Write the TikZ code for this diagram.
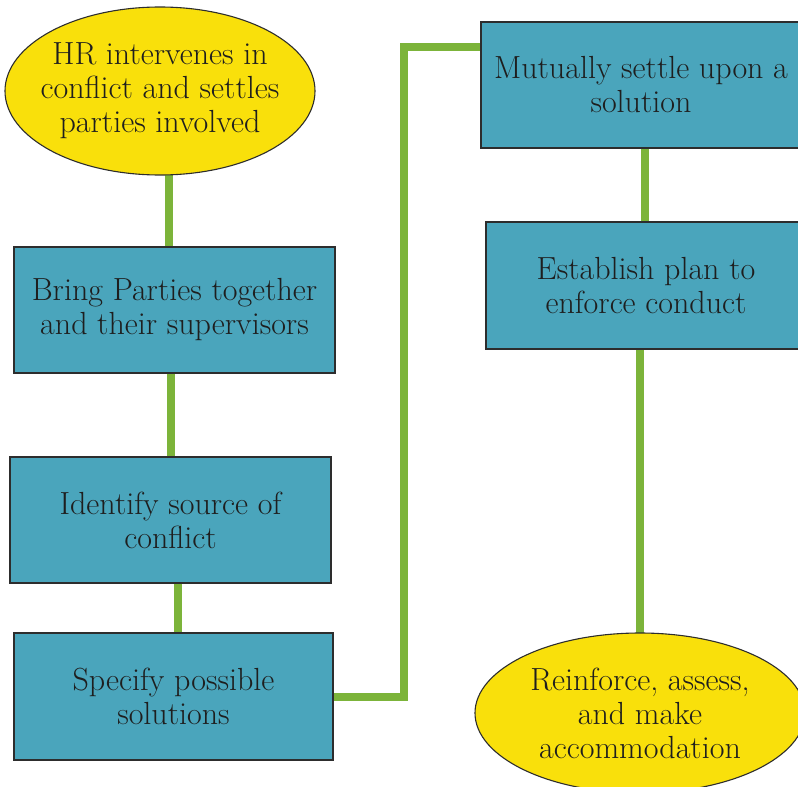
\documentclass[tikz,border=0pt]{standalone}
\usetikzlibrary{shapes.geometric,backgrounds}
\definecolor{boxfill}{RGB}{74,165,188}
\definecolor{ovalfill}{RGB}{249,224,11}
\definecolor{linkgreen}{RGB}{124,180,58}
\definecolor{edgegray}{RGB}{45,45,45}
\definecolor{txt}{RGB}{30,30,30}
\begin{document}
\begin{tikzpicture}[x=1pt,y=-1pt,
  every node/.style={font=\fontsize{32}{34}\selectfont, text=txt, align=center, inner sep=0pt},
  stepbox/.style={rectangle, draw=edgegray, line width=1.3pt, fill=boxfill},
  oval/.style={ellipse, draw=edgegray, line width=1.1pt, fill=ovalfill},
  conn/.style={draw=linkgreen, line width=8pt}]
\useasboundingbox (0,0) rectangle (798,787);
\clip (0,0) rectangle (798,787);
\node[oval, minimum width=310pt, minimum height=168pt,
  label={[name=e1t]center:HR intervenes in\\conflict and settles\\parties involved}] (e1) at (160,91) {};
\node[stepbox, minimum width=321pt, minimum height=126pt] (b1) at (174.5,310) {Bring Parties together\\and their supervisors};
\node[stepbox, minimum width=321pt, minimum height=126pt] (b2) at (170.5,520) {Identify source of\\conflict};
\node[stepbox, minimum width=319pt, minimum height=127pt] (b3) at (173.5,696.5) {Specify possible\\solutions};
\node[stepbox, minimum width=320pt, minimum height=126pt] (m) at (641,85) {Mutually settle upon a\\solution};
\node[stepbox, minimum width=320pt, minimum height=127pt] (es) at (646,285.5) {Establish plan to\\enforce conduct};
\node[oval, minimum width=330pt, minimum height=160pt,
  label={[name=rt]center:Reinforce, assess,\\and make\\accommodation}] (r) at (640,713) {};
\coordinate (bend) at (404,47);
\begin{scope}[on background layer]
\draw[conn] ([xshift=-5.5pt]b1.north) -- ([xshift=-5.5pt]b1.north |- e1.center);
\draw[conn] (b2.north) -- (b2.north |- b1.south);
\draw[conn] ([xshift=4.5pt]b3.north) -- ([xshift=4.5pt]b3.north |- b2.south);
\draw[conn] (b3.east) -| (bend) -- (bend -| m.west);
\draw[conn] ([xshift=-1pt]es.north) -- ([xshift=-1pt]es.north |- m.south);
\draw[conn] (r.center) -- (r.center |- es.south);
\end{scope}
\end{tikzpicture}
\end{document}
